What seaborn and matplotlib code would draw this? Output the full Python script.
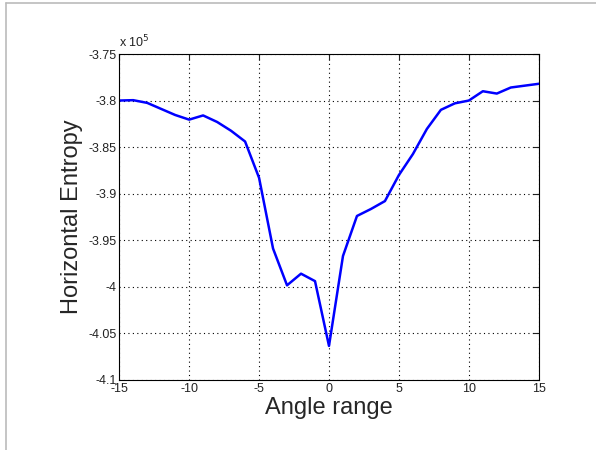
import numpy as np
import matplotlib
matplotlib.use('Agg')
import matplotlib.pyplot as plt
import seaborn as sns
from matplotlib.lines import Line2D

# Data (entropy values in units of 1e5)
angles = list(range(-15, 16))
entropy = [-3.800, -3.7996, -3.8025, -3.809, -3.8155, -3.8205, -3.816, -3.823,
           -3.8325, -3.844, -3.883, -3.959, -3.9985, -3.986, -3.994, -4.0636,
           -3.967, -3.924, -3.9165, -3.908, -3.880, -3.8575, -3.8305, -3.810,
           -3.803, -3.800, -3.790, -3.7925, -3.786, -3.784, -3.782]
x_ticks = [-15, -10, -5, 0, 5, 10, 15]
y_ticks = [-4.1, -4.05, -4.0, -3.95, -3.9, -3.85, -3.8, -3.75]
y_tick_labels = ['-4.1', '-4.05', '-4', '-3.95', '-3.9', '-3.85', '-3.8', '-3.75']

sns.set_theme(style="white")
plt.rcParams['font.family'] = ['Liberation Sans', 'DejaVu Sans']

fig = plt.figure(figsize=(5.96, 4.5), dpi=100)
ax = fig.add_axes([0.2, 0.156, 0.704, 0.724])

sns.lineplot(x=angles, y=entropy, color='#0000ff', linewidth=1.8, ax=ax)

ax.set_xlim(-15, 15)
ax.set_ylim(-4.1, -3.75)
ax.set_xticks(x_ticks)
ax.set_xticklabels([str(t) for t in x_ticks])
ax.set_yticks(y_ticks)
ax.set_yticklabels(y_tick_labels)
ax.grid(True, linestyle=(0, (1, 3)), color='black', linewidth=0.8)
ax.tick_params(direction='in', top=True, right=True, length=4, width=0.8,
               labelsize=9, colors='#222222', pad=2)
for s in ax.spines.values():
    s.set_color('black')
    s.set_linewidth(0.8)

ax.set_xlabel('Angle range', fontsize=17, labelpad=2)
ax.set_ylabel('Horizontal Entropy', fontsize=17, labelpad=4)
ax.text(0.0, 1.01, r'x 10$^5$', transform=ax.transAxes, fontsize=9,
        color='#222222', ha='left', va='bottom')

# light frame lines on top and left of the picture
fig.lines.append(Line2D([0.01, 0.01], [0.0, 0.993], transform=fig.transFigure,
                        color='#bbbbbb', linewidth=1.2))
fig.lines.append(Line2D([0.01, 1.0], [0.993, 0.993], transform=fig.transFigure,
                        color='#bbbbbb', linewidth=1.2))

plt.savefig('out.png', dpi=100)
plt.close()
